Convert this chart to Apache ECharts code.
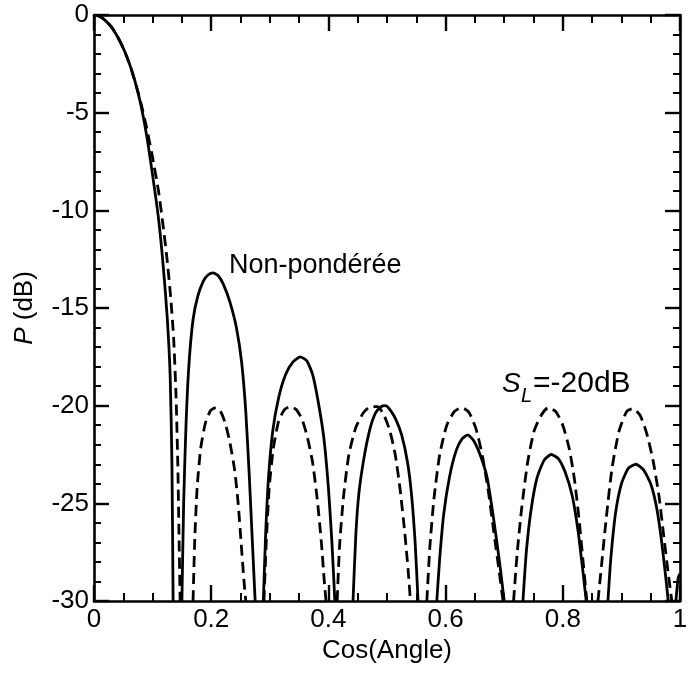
<!DOCTYPE html>
<html><head><meta charset="utf-8">
<script src="https://cdn.jsdelivr.net/npm/echarts@6/dist/echarts.min.js"></script>
<style>html,body{margin:0;padding:0;background:#fff}#c{width:694px;height:677px}</style>
</head><body><div id="c"></div><script>
// x tick labels and y tick labels
const xTickLabels = ['0', '0.2', '0.4', '0.6', '0.8', '1'];
const yTickLabels = ['-30', '-25', '-20', '-15', '-10', '-5', '0'];

// Non-pondérée (solid) — [cos(angle), dB]; each lobe is drawn until it leaves the axis range
const uniformLobe0 = [[0,0],[0.01,-0.08],[0.02,-0.3],[0.03,-0.62],[0.04,-1.1],[0.05,-1.7],[0.06,-2.45],[0.07,-3.4],[0.08,-4.6],[0.09,-6.2],[0.10,-8.2],[0.11,-10.4],[0.118,-12.8],[0.125,-15.5],[0.130,-18.5],[0.133,-23],[0.135,-30]];
const uniformLobe1 = [[0.150,-30],[0.153,-25],[0.157,-21],[0.162,-17.9],[0.169,-15.6],[0.177,-14.4],[0.187,-13.6],[0.195,-13.3],[0.203,-13.2],[0.212,-13.35],[0.221,-13.8],[0.232,-14.7],[0.243,-16],[0.252,-17.8],[0.259,-20.3],[0.265,-23.6],[0.270,-26.8],[0.275,-30]];
const uniformLobe2 = [[0.289,-30],[0.293,-26.5],[0.298,-23.6],[0.305,-21.3],[0.315,-19.6],[0.327,-18.4],[0.340,-17.75],[0.352,-17.5],[0.363,-17.7],[0.373,-18.4],[0.382,-19.7],[0.392,-21.6],[0.400,-24.2],[0.406,-27],[0.411,-30]];
const uniformLobe3 = [[0.442,-30],[0.447,-26.5],[0.452,-24.5],[0.460,-22.8],[0.470,-21.3],[0.480,-20.4],[0.490,-20.05],[0.497,-20.0],[0.505,-20.2],[0.515,-20.7],[0.525,-21.5],[0.535,-22.9],[0.542,-24.6],[0.548,-27],[0.553,-30]];
const uniformLobe4 = [[0.585,-30],[0.590,-27.8],[0.597,-25.5],[0.607,-23.6],[0.618,-22.3],[0.628,-21.7],[0.638,-21.5],[0.648,-21.8],[0.660,-22.6],[0.671,-23.7],[0.681,-25.6],[0.692,-28],[0.700,-30]];
const uniformLobe5 = [[0.732,-30],[0.738,-27.4],[0.746,-25.3],[0.756,-23.7],[0.768,-22.8],[0.780,-22.5],[0.792,-22.7],[0.804,-23.4],[0.816,-24.6],[0.826,-26.4],[0.834,-28.4],[0.840,-30]];
const uniformLobe6 = [[0.877,-30],[0.882,-27.8],[0.890,-25.5],[0.900,-24],[0.912,-23.2],[0.925,-23],[0.938,-23.3],[0.950,-24],[0.960,-25.2],[0.968,-26.8],[0.975,-28.6],[0.980,-30]];
const uniformLobe7 = [[0.993,-30],[0.997,-28.8],[1,-28.6]];

// S_L = -20 dB (dashed)
const weightedLobe0 = [[0,0],[0.01,-0.08],[0.02,-0.3],[0.03,-0.62],[0.04,-1.1],[0.05,-1.7],[0.06,-2.45],[0.07,-3.4],[0.08,-4.5],[0.09,-5.8],[0.10,-7.3],[0.11,-9.0],[0.118,-10.8],[0.125,-12.6],[0.131,-14.5],[0.136,-16.6],[0.140,-19.5],[0.143,-23],[0.145,-26.5],[0.147,-30]];
const weightedLobe1 = [[0.169,-30],[0.172,-26.8],[0.176,-24.2],[0.182,-22.2],[0.190,-20.9],[0.199,-20.25],[0.208,-20.1],[0.216,-20.3],[0.224,-20.9],[0.232,-21.9],[0.240,-23.3],[0.246,-25],[0.251,-27],[0.256,-29],[0.259,-30]];
const weightedLobe2 = [[0.290,-30],[0.294,-27],[0.299,-24.2],[0.306,-22.2],[0.315,-20.8],[0.325,-20.2],[0.335,-20.05],[0.345,-20.2],[0.355,-20.7],[0.364,-21.6],[0.373,-22.9],[0.381,-24.8],[0.388,-27],[0.393,-29],[0.396,-30]];
const weightedLobe3 = [[0.415,-30],[0.419,-27.2],[0.426,-24.6],[0.435,-22.5],[0.447,-21.1],[0.460,-20.35],[0.472,-20.05],[0.484,-20.05],[0.495,-20.5],[0.505,-21.3],[0.514,-22.5],[0.522,-24.2],[0.530,-26.4],[0.536,-28.4],[0.540,-30]];
const weightedLobe4 = [[0.568,-30],[0.573,-27.3],[0.580,-24.8],[0.590,-22.5],[0.602,-21],[0.615,-20.3],[0.628,-20.1],[0.640,-20.35],[0.652,-21.2],[0.663,-22.6],[0.673,-24.4],[0.682,-26.4],[0.691,-28.4],[0.698,-30]];
const weightedLobe5 = [[0.716,-30],[0.722,-27.6],[0.730,-25.2],[0.740,-22.9],[0.751,-21.3],[0.763,-20.5],[0.775,-20.1],[0.788,-20.3],[0.800,-21],[0.811,-22.2],[0.820,-23.8],[0.828,-25.9],[0.835,-28.1],[0.841,-30]];
const weightedLobe6 = [[0.860,-30],[0.866,-28.2],[0.874,-25.8],[0.884,-23.2],[0.896,-21.3],[0.909,-20.3],[0.920,-20.15],[0.932,-20.5],[0.943,-21.4],[0.954,-22.8],[0.964,-24.6],[0.972,-26.6],[0.980,-28.6],[0.986,-30]];

function joinLobes(lobes) {
  const out = [];
  lobes.forEach((l, i) => { if (i > 0) out.push([l[0][0], '-']); l.forEach(p => out.push(p)); });
  return out;
}
const uniformData = joinLobes([uniformLobe0, uniformLobe1, uniformLobe2, uniformLobe3, uniformLobe4, uniformLobe5, uniformLobe6, uniformLobe7]);
const weightedData = joinLobes([weightedLobe0, weightedLobe1, weightedLobe2, weightedLobe3, weightedLobe4, weightedLobe5, weightedLobe6]);

const FONT = 'Liberation Sans';
const chart = echarts.init(document.getElementById('c'), null, {renderer: 'canvas'});

function xAxisCfg(pos, labels) {
  return {
    type: 'value', position: pos, min: 0, max: 1, interval: 0.2,
    axisLine: {show: true, onZero: false, lineStyle: {color: '#000', width: 2.6}},
    axisTick: {show: true, inside: true, length: 16, lineStyle: {color: '#000', width: 2.4}},
    minorTick: {show: true, splitNumber: 4, length: 8, lineStyle: {color: '#000', width: 2}},
    splitLine: {show: false},
    axisLabel: {show: labels, color: '#000', fontSize: 26, fontFamily: FONT, margin: 6,
      formatter: v => xTickLabels[Math.round(v / 0.2)]},
    name: labels ? 'Cos(Angle)' : '', nameLocation: 'middle', nameGap: 35,
    nameTextStyle: {color: '#000', fontSize: 26, fontFamily: FONT}
  };
}
function yAxisCfg(pos, labels) {
  return {
    type: 'value', position: pos, min: -30, max: 0, interval: 5,
    axisLine: {show: true, onZero: false, lineStyle: {color: '#000', width: 2.6}},
    axisTick: {show: true, inside: true, length: 15, lineStyle: {color: '#000', width: 2.4}},
    minorTick: {show: true, splitNumber: 5, length: 7, lineStyle: {color: '#000', width: 2}},
    splitLine: {show: false},
    axisLabel: {show: labels, color: '#000', fontSize: 26, fontFamily: FONT, margin: 5,
      formatter: v => yTickLabels[Math.round((v + 30) / 5)]},
    name: labels ? '{i|P} (dB)' : '', nameLocation: 'middle', nameGap: 56, nameRotate: 90,
    nameTextStyle: {color: '#000', fontSize: 26, fontFamily: FONT,
      rich: {i: {fontStyle: 'italic', fontSize: 26, fontFamily: FONT, color: '#000'}}}
  };
}

chart.setOption({
  animation: false,
  backgroundColor: '#fff',
  grid: {left: 94, right: 14, top: 15, bottom: 76, containLabel: false},
  xAxis: [xAxisCfg('bottom', true), xAxisCfg('top', false)],
  yAxis: [yAxisCfg('left', true), yAxisCfg('right', false)],
  series: [
    {name: 'Non-pondérée', type: 'line', data: uniformData, showSymbol: false, connectNulls: false,
      clip: true, lineStyle: {color: '#000', width: 2.8, type: 'solid'}, smooth: 0.2},
    {name: 'S_L=-20dB', type: 'line', data: weightedData, showSymbol: false, connectNulls: false,
      clip: true, lineStyle: {color: '#000', width: 2.8, type: [11, 6]}, smooth: 0.2}
  ],
  graphic: [
    {type: 'text', left: 229, top: 252, style: {text: 'Non-pondérée', fill: '#000', font: '27px "' + FONT + '"'}},
    {type: 'text', left: 502, top: 370, style: {text: 'S', fill: '#000', font: 'italic 28px "' + FONT + '"'}},
    {type: 'text', left: 521, top: 386, style: {text: 'L', fill: '#000', font: 'italic 20px "' + FONT + '"'}},
    {type: 'text', left: 533, top: 369, style: {text: '=-20dB', fill: '#000', font: '30px "' + FONT + '"'}}
  ]
});
</script></body></html>
